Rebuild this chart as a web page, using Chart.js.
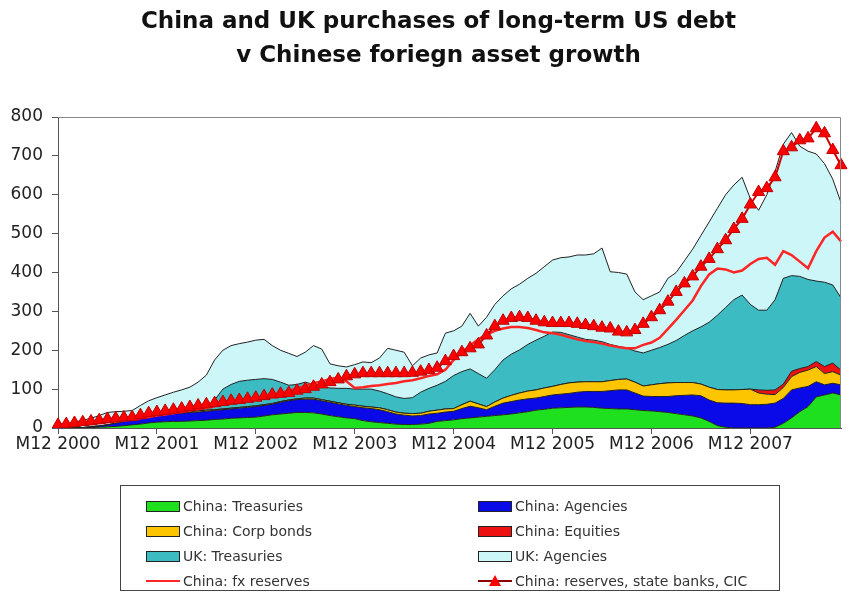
<!DOCTYPE html>
<html>
<head>
<meta charset="utf-8">
<script src="https://cdn.jsdelivr.net/npm/chart.js@4.4.1/dist/chart.umd.min.js"></script>
<style>
  body { margin: 0; background: #fff; }
  #wrap { position: relative; width: 849px; height: 598px; }
  #title {
    position: absolute; left: 14px; top: 3px; width: 849px;
    text-align: center; font: bold 23px "DejaVu Sans", sans-serif;
    line-height: 34px; color: #111;
  }
  #legend {
    position: absolute; left: 120px; top: 485px; width: 660px; height: 106px;
    border: 1px solid #444; box-sizing: border-box;
    font: 14px "DejaVu Sans", sans-serif; color: #333;
  }
  .item { position: absolute; height: 16px; line-height: 16px; white-space: nowrap; }
  .sw { display: inline-block; width: 32px; height: 9px; border: 1px solid #222; vertical-align: -1px; margin-right: 3px; }
  .ln { display: inline-block; width: 34px; height: 16px; vertical-align: top; margin-right: 3px; position: relative; }
  .ln i { position: absolute; left: 0; top: 7px; width: 34px; height: 2px; }
  .ln b { position: absolute; left: 11px; top: 2px; width: 0; height: 0;
    border-left: 6px solid transparent; border-right: 6px solid transparent; border-bottom: 11px solid #f00; }
</style>
</head>
<body>
<div id="wrap">
  <canvas id="c" width="849" height="598"></canvas>
  <div id="title">China and UK purchases of long-term US debt<br>v Chinese foriegn asset growth</div>
  <div id="legend"></div>
</div>
<script>
// monthly, M12 2000 .. M11 2008, $bn
const chinaTreasuries = [
  0, 0, 0, 0, 1, 2, 3, 4, 6, 8,
  10, 13, 15, 16, 17, 17, 18, 19, 20, 22,
  23, 25, 26, 27, 28, 31, 34, 36, 38, 40,
  40, 39, 36, 32, 29, 26, 24, 19, 16, 14,
  12, 10, 9, 9, 10, 12, 17, 19, 21, 24,
  26, 28, 30, 32, 34, 36, 39, 42, 46, 48,
  51, 52, 53, 54, 54, 53, 51, 50, 49, 49,
  47, 45, 44, 42, 40, 37, 34, 31, 26, 17,
  6, 2, 0, 0, 0, 0, 0, 2, 12, 26,
  42, 55, 80, 85, 90, 85
];
const chinaAgencies = [
  0, 0, 0, 1, 2, 3, 5, 8, 11, 14,
  17, 18, 18, 19, 20, 21, 22, 22, 23, 23,
  24, 24, 25, 26, 27, 27, 27, 30, 32, 33,
  34, 35, 34, 34, 33, 32, 31, 33, 34, 33,
  30, 26, 24, 22, 22, 24, 21, 22, 22, 26,
  30, 24, 17, 24, 30, 32, 33, 33, 31, 33,
  34, 35, 36, 38, 40, 41, 43, 46, 49, 49,
  43, 37, 37, 39, 41, 46, 50, 54, 57, 55,
  59, 62, 64, 63, 60, 60, 61, 62, 64, 72,
  61, 52, 39, 26, 25, 26
];
const chinaCorpBonds = [
  0, 0, 0, 0, 0, 0, 0, 0, 0, 0,
  1, 1, 1, 1, 1, 2, 2, 3, 3, 2,
  2, 2, 2, 2, 2, 2, 2, 2, 2, 2,
  3, 3, 3, 3, 3, 3, 4, 4, 4, 5,
  5, 5, 5, 6, 6, 7, 8, 8, 7, 10,
  13, 10, 8, 11, 13, 16, 18, 20, 21, 22,
  22, 25, 27, 26, 25, 25, 25, 26, 27, 28,
  28, 26, 30, 33, 35, 34, 33, 32, 30, 33,
  34, 34, 34, 36, 40, 30, 26, 22, 28, 34,
  40, 42, 39, 29, 30, 25
];
const chinaEquities = [
  0, 0, 0, 0, 0, 0, 0, 0, 0, 0,
  0, 0, 0, 0, 0, 0, 0, 0, 0, 0,
  0, 0, 0, 0, 0, 0, 0, 0, 0, 0,
  0, 0, 0, 0, 0, 0, 0, 0, 0, 0,
  0, 0, 0, 0, 0, 0, 0, 0, 0, 0,
  0, 0, 0, 0, 0, 0, 0, 0, 0, 0,
  0, 0, 0, 0, 0, 0, 0, 0, 0, 0,
  0, 0, 0, 0, 0, 0, 0, 0, 0, 0,
  0, 0, 0, 0, 0, 8, 10, 12, 9, 14,
  10, 9, 13, 18, 22, 13
];
const ukTreasuries = [
  0, 0, 0, 0, 0, 0, 0, 0, 0, 0,
  0, 0, 0, 0, 0, 0, 0, 0, 5, 25,
  51, 61, 67, 68, 68, 67, 62, 50, 38, 37,
  41, 35, 33, 34, 37, 41, 41, 44, 46, 43,
  41, 39, 38, 41, 54, 59, 64, 71, 85, 85,
  83, 78, 73, 83, 98, 106, 111, 120, 128, 133,
  140, 134, 124, 116, 109, 107, 103, 93, 85, 80,
  80, 85, 89, 93, 99, 108, 121, 133, 147, 167,
  191, 212, 232, 243, 218, 205, 206, 232, 272, 246,
  237, 224, 207, 217, 201, 186
];
const ukAgencies = [
  8, 12, 15, 19, 22, 27, 32, 30, 26, 23,
  30, 38, 44, 49, 54, 58, 63, 74, 85, 103,
  100, 100, 97, 98, 101, 101, 87, 82, 82, 72,
  77, 100, 97, 62, 58, 55, 63, 70, 68, 85,
  117, 120, 119, 82, 88, 86, 83, 124, 115, 117,
  143, 122, 157, 168, 165, 168, 169, 170, 172, 179,
  185, 192, 200, 211, 217, 222, 241, 187, 190, 190,
  152, 137, 140, 143, 170, 175, 192, 210, 235, 258,
  275, 290, 295, 303, 272, 257, 297, 330, 345, 368,
  335, 330, 327, 305, 272, 245
];
const chinaFxReserves = [
  3, 5, 7, 9, 11, 13, 15, 17, 20, 22,
  25, 28, 32, 35, 38, 42, 45, 48, 52, 56,
  60, 64, 68, 72, 76, 80, 85, 90, 96, 102,
  108, 115, 120, 126, 130, 120, 103, 105, 108, 110,
  113, 116, 120, 123, 128, 134, 138, 150, 175, 195,
  212, 228, 240, 250, 256, 260, 260, 257, 252, 246,
  244, 240, 234, 228, 224, 221, 217, 212, 208, 205,
  205, 214, 220, 232, 255, 278, 303, 328, 365, 395,
  410, 408, 400, 405, 422, 435, 438, 420, 455, 445,
  428, 411, 455, 490, 505, 480
];
const chinaReservesBanksCic = [
  8, 10, 13, 15, 17, 20, 23, 25, 27, 28,
  33, 38, 41, 44, 47, 50, 54, 58, 61, 64,
  67, 70, 72, 75, 78, 82, 86, 88, 90, 96,
  100, 106, 112, 118, 125, 133, 138, 141, 141, 141,
  141, 141, 141, 142, 145, 149, 155, 172, 185, 195,
  205, 215, 238, 262, 276, 283, 285, 283, 276, 272,
  270, 270, 270, 268, 265, 262, 258, 256, 248, 246,
  252, 268, 285, 303, 325, 350, 372, 390, 415, 435,
  460, 483, 512, 538, 575, 607, 617, 645, 712, 722,
  740, 745, 771, 758, 715, 676
];

const monthLabels = [];
for (let k = 0; k < chinaTreasuries.length; k++) {
  const m = (11 + k) % 12 + 1;
  const y = 2000 + Math.floor((11 + k) / 12);
  monthLabels.push("M" + m + " " + y);
}

const areaStyle = { pointRadius: 0, borderWidth: 1, borderColor: "#222", tension: 0, stack: "debt", order: 2 };

// frame on top and right of the plot
const frame = {
  id: "frame",
  afterDraw(chart) {
    const a = chart.chartArea, ctx = chart.ctx;
    ctx.save();
    ctx.strokeStyle = "#888";
    ctx.lineWidth = 1;
    ctx.beginPath();
    ctx.moveTo(a.left, a.top + 0.5);
    ctx.lineTo(a.right - 0.5, a.top + 0.5);
    ctx.lineTo(a.right - 0.5, a.bottom);
    ctx.stroke();
    ctx.restore();
  }
};

new Chart(document.getElementById("c"), {
  type: "line",
  data: {
    labels: monthLabels,
    datasets: [
      { label: "China: Treasuries", data: chinaTreasuries, backgroundColor: "#1fe01f", fill: "origin", ...areaStyle },
      { label: "China: Agencies", data: chinaAgencies, backgroundColor: "#0a0ae8", fill: "-1", ...areaStyle },
      { label: "China: Corp bonds", data: chinaCorpBonds, backgroundColor: "#fcc500", fill: "-1", ...areaStyle },
      { label: "China: Equities", data: chinaEquities, backgroundColor: "#ee1111", fill: "-1", ...areaStyle },
      { label: "UK: Treasuries", data: ukTreasuries, backgroundColor: "#3cbcc2", fill: "-1", ...areaStyle },
      { label: "UK: Agencies", data: ukAgencies, backgroundColor: "#cdf6f8", fill: "-1", ...areaStyle },
      {
        label: "China: fx reserves", data: chinaFxReserves, stack: "fx", order: 1,
        borderColor: "#ff2525", borderWidth: 2.5, pointRadius: 0, fill: false, tension: 0
      },
      {
        label: "China: reserves, state banks, CIC", data: chinaReservesBanksCic, stack: "cic", order: 0,
        borderColor: "#d40000", borderWidth: 2, fill: false, tension: 0,
        pointStyle: "triangle", pointRadius: 7, pointBackgroundColor: "#ff0000",
        pointBorderColor: "#c00000", pointBorderWidth: 1
      }
    ]
  },
  options: {
    responsive: false,
    animation: false,
    devicePixelRatio: 1,
    layout: { padding: { top: 117, left: 0, right: 2, bottom: 140 } },
    plugins: { legend: { display: false }, title: { display: false }, tooltip: { enabled: false } },
    scales: {
      x: {
        offset: false,
        afterFit: (s) => { s.height = 30; },
        grid: {
          drawOnChartArea: false, tickLength: 6,
          color: (c) => (c.index % 12 === 0 ? "#555" : "rgba(0,0,0,0)")
        },
        border: { color: "#555" },
        ticks: {
          autoSkip: false, maxRotation: 0, padding: 0,
          font: { family: "DejaVu Sans", size: 17 }, color: "#222",
          callback: (v, i) => (i % 12 === 0 ? monthLabels[i] : "")
        }
      },
      y: {
        stacked: true,
        min: 0, max: 800,
        afterFit: (s) => { s.width = 58; },
        grid: { drawOnChartArea: false, tickLength: 6, color: "#555" },
        border: { color: "#555" },
        ticks: { stepSize: 100, padding: 9, font: { family: "DejaVu Sans", size: 17 }, color: "#222" }
      }
    }
  },
  plugins: [frame]
});

// legend, two columns like the original
const legendItems = [
  { text: "China: Treasuries", col: 0, row: 0, fill: "#1fe01f" },
  { text: "China: Agencies", col: 1, row: 0, fill: "#0a0ae8" },
  { text: "China: Corp bonds", col: 0, row: 1, fill: "#fcc500" },
  { text: "China: Equities", col: 1, row: 1, fill: "#ee1111" },
  { text: "UK: Treasuries", col: 0, row: 2, fill: "#3cbcc2" },
  { text: "UK: Agencies", col: 1, row: 2, fill: "#cdf6f8" },
  { text: "China: fx reserves", col: 0, row: 3, line: "#ff2525" },
  { text: "China: reserves, state banks, CIC", col: 1, row: 3, line: "#8a0000", tri: true }
];
const leg = document.getElementById("legend");
legendItems.forEach((it) => {
  const d = document.createElement("div");
  d.className = "item";
  d.style.left = (it.col === 0 ? 25 : 357) + "px";
  d.style.top = (12 + it.row * 25) + "px";
  let mark;
  if (it.fill) {
    mark = '<span class="sw" style="background:' + it.fill + '"></span>';
  } else {
    mark = '<span class="ln"><i style="background:' + it.line + '"></i>' + (it.tri ? "<b></b>" : "") + "</span>";
  }
  d.innerHTML = mark + it.text;
  leg.appendChild(d);
});
</script>
</body>
</html>
